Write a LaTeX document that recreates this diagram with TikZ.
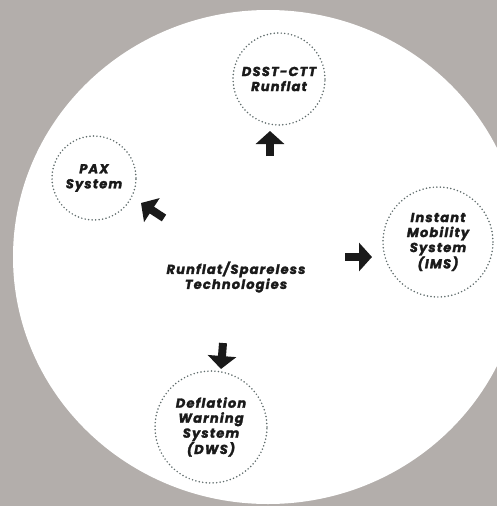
\documentclass[tikz,border=0pt]{standalone}
\usepackage{fontspec}
\setmainfont{Poppins}[LetterSpace=9, BoldItalicFeatures={FakeBold=2}]
\usetikzlibrary{arrows.meta}
\definecolor{bggray}{HTML}{B3AEAB}
\definecolor{dotgray}{HTML}{5E6B6B}
\definecolor{ink}{HTML}{1A1A1A}
\tikzset{
  techcircle/.style={circle, draw=dotgray, line width=1.7pt, dash pattern=on 0pt off 3.5pt, line cap=round,
    align=center, inner sep=0pt, text=ink, font=\fontsize{13}{15}\selectfont\bfseries\itshape},
  centertext/.style={align=center, text=ink, font=\fontsize{13}{15}\selectfont\bfseries\itshape},
  blockarrow/.style={draw=ink, line width=8pt, -{Triangle[length=13pt,width=28pt]}}
}
\begin{document}
\begin{tikzpicture}[x=1pt,y=-1pt]
\useasboundingbox (0,0) rectangle (497,506);
\fill[bggray] (0,0) rectangle (497,506);
\begin{scope}
\clip (0,0) rectangle (497,506);
\fill[white] (268,257) ellipse [x radius=255, y radius=247];
\end{scope}
\node[centertext] (core) at (236,277) {Runflat/Spareless\\Technologies};
\node[techcircle, minimum size=92pt] (dsst) at (279,79) {DSST-CTT\\Runflat};
\node[techcircle, minimum size=84pt] (pax) at (94,178) {PAX\\System};
\node[techcircle, minimum size=110pt] (ims) at (438,242) {Instant\\Mobility\\System\\(IMS)};
\node[techcircle, minimum size=112pt] (dws) at (211,427) {Deflation\\Warning\\System\\(DWS)};
\coordinate (a1s) at (270,156); \coordinate (a1e) at (270,131);
\coordinate (a2s) at (164,218); \coordinate (a2e) at (141,203);
\coordinate (a3s) at (345,257); \coordinate (a3e) at (372,257);
\coordinate (a4s) at (223,343); \coordinate (a4e) at (221,369);
\draw[blockarrow] (a1s) -- (a1e);
\draw[blockarrow] (a2s) -- (a2e);
\draw[blockarrow] (a3s) -- (a3e);
\draw[blockarrow] (a4s) -- (a4e);
\end{tikzpicture}
\end{document}
